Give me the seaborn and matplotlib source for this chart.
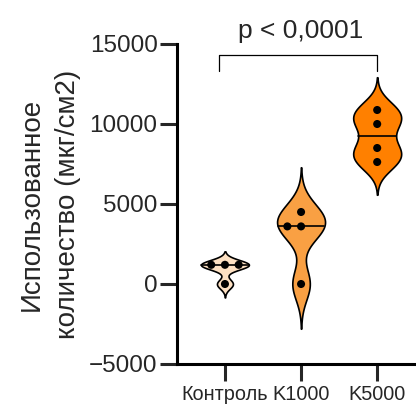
import numpy as np
import pandas as pd
import matplotlib.pyplot as plt
import seaborn as sns

# Values
groups = ['Контроль', 'K1000', 'K5000']
control = [1200, 1200, 1200, 0]
k1000 = [4500, 3600, 3600, 0]
k5000 = [10875, 10000, 8500, 7625]
colors = ['#FDE0C2', '#F9A043', '#FF8000']
p_text = 'p < 0,0001'

df = pd.DataFrame({
    'group': [groups[0]] * len(control) + [groups[1]] * len(k1000) + [groups[2]] * len(k5000),
    'value': control + k1000 + k5000,
})

sns.set_style('ticks')
plt.rcParams['font.family'] = ['Liberation Sans', 'DejaVu Sans']

fig = plt.figure(figsize=(4.16, 4.04), dpi=100)
ax = fig.add_axes([177 / 416, 40 / 404, 1 - 177 / 416, 320 / 404])

sns.violinplot(data=df, x='group', y='value', hue='group', palette=colors,
               inner='quart', density_norm='width', width=0.63,
               bw_method=0.5, cut=2.8, linewidth=1.2, linecolor='black',
               saturation=1, legend=False, ax=ax)

# keep only the median line of each violin, solid
for i, line in enumerate(list(ax.lines)):
    if i % 3 != 1:
        line.remove()
    else:
        line.set_linestyle('-')
        line.set_linewidth(1.2)
        line.set_color('black')

sns.swarmplot(data=df, x='group', y='value', color='black', size=5.8,
              linewidth=3.6, edgecolor='none', ax=ax)

ax.set_ylim(-5000, 15000)
ax.set_xlim(-0.63, 2.51)
ax.set_yticks([-5000, 0, 5000, 10000, 15000])
ax.set_xlabel('')
ax.set_ylabel('Использованное\nколичество (мкг/см2)', fontsize=20,
              labelpad=6, linespacing=1.5)

for side in ['top', 'right']:
    ax.spines[side].set_visible(False)
for side in ['left', 'bottom']:
    ax.spines[side].set_linewidth(2.2)
    ax.spines[side].set_color('black')

ax.tick_params(axis='y', length=12, width=2.2, labelsize=17.5, pad=2)
ax.tick_params(axis='x', length=12, width=2.2, labelsize=14.3, pad=3)

# significance bracket
ax.plot([-0.08, -0.08, 2.0, 2.0], [13300, 14300, 14300, 13300],
        color='black', linewidth=0.9, clip_on=False)
ax.text(1.0, 15050, p_text, ha='center', va='bottom', fontsize=19)

fig.savefig('out.png', dpi=100)
